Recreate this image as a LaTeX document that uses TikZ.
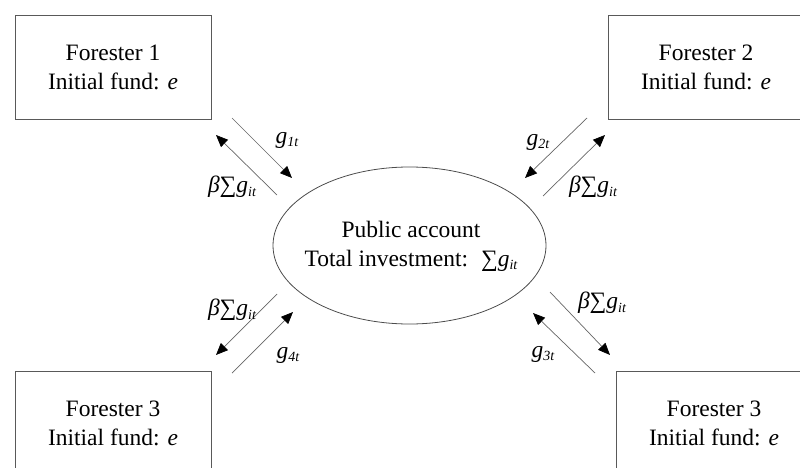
\documentclass[tikz,border=0pt]{standalone}
\usepackage{fontspec}
\setmainfont{Liberation Serif}
\usetikzlibrary{shapes.geometric,arrows.meta}

% small italic index set slightly below the baseline
\newcommand\idx[1]{\raisebox{-0.3ex}{\fontsize{14}{14}\selectfont\itshape #1}}
\newcommand\gsym[1]{\textit{g}\idx{#1}}
\newcommand\bsum{\textit{β}∑\textit{g}\idx{it}}

\tikzset{
  agent/.style={draw=black!65, line width=0.8pt, minimum width=196pt,
    minimum height=104pt, inner sep=0pt, align=center},
  pool/.style={ellipse, draw=black!70, line width=0.8pt, minimum width=273pt,
    minimum height=157pt, inner sep=0pt},
  pooltext/.style={inner sep=0pt, align=center},
  flow/.style={draw=black!60, line width=0.7pt,
    -{Triangle[length=12pt,width=10pt,color=black,fill=black]}},
  lbl/.style={inner sep=0pt},
}

\begin{document}
\begin{tikzpicture}[x=1pt,y=-1pt,font=\fontsize{23.5}{29}\selectfont]
\useasboundingbox (0,0) rectangle (800,468);

% foresters and the shared account
\node[agent] (f1) at (113,67)  {Forester 1\\Initial fund: \textit{e}};
\node[agent] (f2) at (706,67)  {Forester 2\\Initial fund: \textit{e}};
\node[agent] (f3) at (113,423) {Forester 3\\Initial fund: \textit{e}};
\node[agent] (f4) at (714,423) {Forester 3\\Initial fund: \textit{e}};
\node[pool]  (pa) at (409.5,245.5) {};
\node[pooltext] (pt) at (411,246)
  {Public account\\Total investment:\hspace{0.55em}∑\textit{g}\idx{it}};

% end points of the flow arrows
\coordinate (c1a) at (232,118); \coordinate (c1b) at (292,178);
\coordinate (r1a) at (277,195); \coordinate (r1b) at (216,135);
\coordinate (c2a) at (587,118); \coordinate (c2b) at (525,178);
\coordinate (r2a) at (543,196); \coordinate (r2b) at (605,135);
\coordinate (r4a) at (277,294); \coordinate (r4b) at (216,355);
\coordinate (c4a) at (232,373); \coordinate (c4b) at (293,312);
\coordinate (r3a) at (550,292); \coordinate (r3b) at (610,355);
\coordinate (c3a) at (595,373); \coordinate (c3b) at (533,313);

\draw[flow] (c1a) -- (c1b);
\draw[flow] (r1a) -- (r1b);
\draw[flow] (c2a) -- (c2b);
\draw[flow] (r2a) -- (r2b);
\draw[flow] (r4a) -- (r4b);
\draw[flow] (c4a) -- (c4b);
\draw[flow] (r3a) -- (r3b);
\draw[flow] (c3a) -- (c3b);

% flow labels
\node[lbl] (l1) at (287,140) {\gsym{1t}};
\node[lbl] (m1) at (232,187) {\bsum};
\node[lbl] (l2) at (538,142) {\gsym{2t}};
\node[lbl] (m2) at (593,187) {\bsum};
\node[lbl] (m4) at (232,310) {\bsum};
\node[lbl] (l4) at (288,355) {\gsym{4t}};
\node[lbl] (m3) at (602,303) {\bsum};
\node[lbl] (l3) at (543,354) {\gsym{3t}};
\end{tikzpicture}
\end{document}
